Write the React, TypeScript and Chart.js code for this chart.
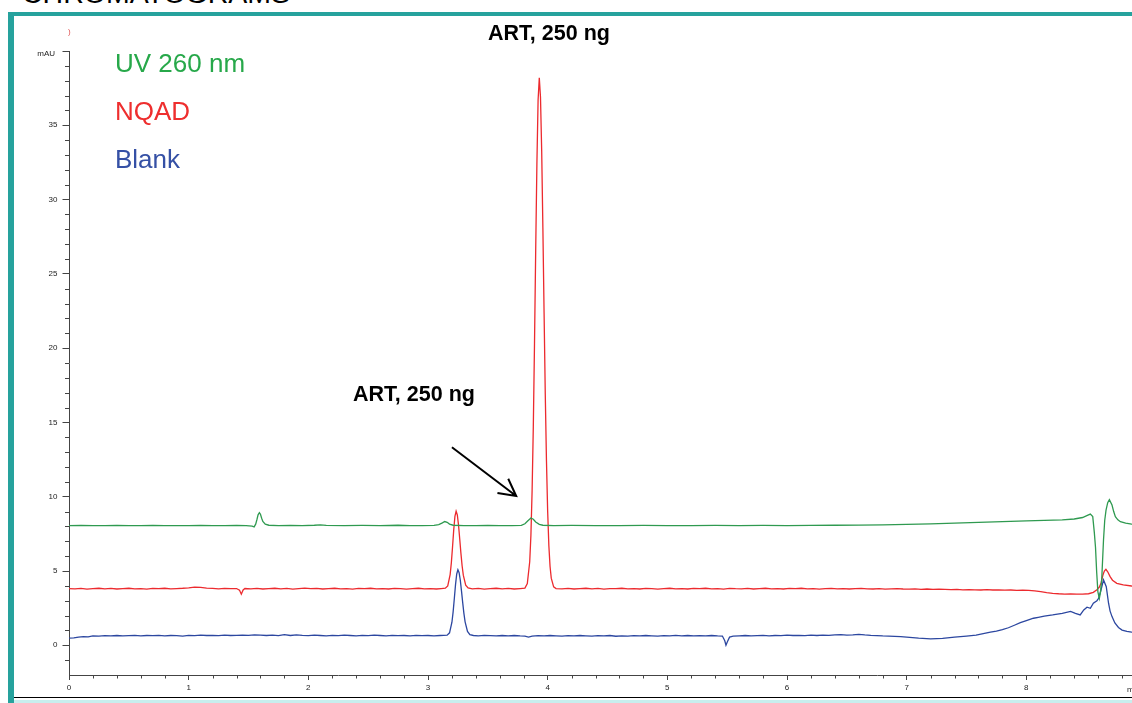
import React, { useEffect, useRef } from 'react';
import { Chart, registerables } from 'chart.js';

Chart.register(...registerables);

// ---- data (time in min, signal in mAU) ----
const uvTimes = [
  0.00, 0.10, 0.20, 0.30, 0.40, 0.50, 0.60, 0.70, 0.80, 0.90, 1.00, 1.10, 1.20, 1.30, 1.40, 1.48,
  1.53, 1.547, 1.56, 1.57, 1.58, 1.591, 1.60, 1.61, 1.62, 1.64, 1.67, 1.75, 1.85, 1.95, 2.05, 2.10,
  2.15, 2.30, 2.45, 2.60, 2.75, 2.85, 2.95, 3.05, 3.09, 3.12, 3.14, 3.16, 3.18, 3.21, 3.30, 3.40,
  3.50, 3.60, 3.70, 3.78, 3.81, 3.835, 3.86, 3.88, 3.90, 3.93, 3.96, 4.05, 4.20, 4.40, 4.60, 4.80,
  5.00, 5.20, 5.40, 5.60, 5.80, 6.00, 6.20, 6.40, 6.60, 6.80, 7.00, 7.20, 7.40, 7.60, 7.80, 8.00,
  8.15, 8.30, 8.40, 8.47, 8.51, 8.535, 8.555, 8.568, 8.578, 8.588, 8.598, 8.61, 8.62, 8.63, 8.645,
  8.655, 8.666, 8.68, 8.694, 8.716, 8.73, 8.744, 8.765, 8.786, 8.83, 8.88, 8.95,
];
const uvValues = [
  8.05, 8.07, 8.05, 8.06, 8.07, 8.05, 8.06, 8.07, 8.06, 8.05, 8.06, 8.07, 8.06, 8.05, 8.07, 8.06,
  8.02, 7.97, 8.15, 8.45, 8.78, 8.93, 8.82, 8.55, 8.33, 8.15, 8.08, 8.06, 8.07, 8.06, 8.08, 8.10,
  8.07, 8.06, 8.07, 8.06, 8.08, 8.06, 8.06, 8.07, 8.12, 8.24, 8.33, 8.28, 8.16, 8.08, 8.06, 8.06,
  8.07, 8.06, 8.06, 8.07, 8.18, 8.38, 8.57, 8.48, 8.30, 8.14, 8.08, 8.06, 8.07, 8.06, 8.06, 8.07,
  8.06, 8.06, 8.07, 8.06, 8.07, 8.06, 8.07, 8.08, 8.09, 8.11, 8.14, 8.17, 8.22, 8.27, 8.33, 8.38,
  8.41, 8.44, 8.50, 8.60, 8.74, 8.83, 8.66, 7.6, 6.6, 4.9, 3.6, 3.16, 3.6, 4.45, 7.1,
  8.4, 9.1, 9.6, 9.8, 9.44, 9.0, 8.66, 8.44, 8.32, 8.22, 8.15, 8.12,
];

const nqadTimes = [
  0.00, 0.05, 0.10, 0.15, 0.20, 0.25, 0.30, 0.35, 0.40, 0.45, 0.50, 0.55, 0.60, 0.65, 0.70, 0.75,
  0.80, 0.85, 0.90, 0.95, 1.00, 1.05, 1.10, 1.15, 1.20, 1.25, 1.30, 1.35, 1.40, 1.425, 1.44, 1.455,
  1.47, 1.52, 1.57, 1.62, 1.67, 1.72, 1.77, 1.82, 1.87, 1.92, 1.97, 2.02, 2.07, 2.12, 2.17, 2.22,
  2.27, 2.32, 2.37, 2.42, 2.47, 2.52, 2.57, 2.62, 2.67, 2.72, 2.77, 2.82, 2.87, 2.92, 2.97, 3.02,
  3.07, 3.11, 3.145, 3.165, 3.185, 3.195, 3.205, 3.215, 3.225, 3.235, 3.245, 3.255, 3.265, 3.275,
  3.285, 3.295, 3.315, 3.335, 3.37, 3.42, 3.47, 3.52, 3.57, 3.62, 3.67, 3.72, 3.77, 3.81, 3.83,
  3.85, 3.86, 3.87, 3.88, 3.89, 3.90, 3.91, 3.92, 3.93, 3.94, 3.95, 3.96, 3.97, 3.98, 3.99, 4.00,
  4.01, 4.02, 4.03, 4.05, 4.07, 4.12, 4.17, 4.22, 4.27, 4.32, 4.37, 4.42, 4.47, 4.52, 4.57, 4.62,
  4.67, 4.72, 4.77, 4.82, 4.87, 4.92, 4.97, 5.02, 5.07, 5.12, 5.17, 5.22, 5.27, 5.32, 5.37, 5.42,
  5.47, 5.52, 5.57, 5.62, 5.67, 5.72, 5.77, 5.82, 5.87, 5.92, 5.97, 6.02, 6.07, 6.12, 6.17, 6.22,
  6.27, 6.32, 6.37, 6.42, 6.47, 6.52, 6.57, 6.62, 6.67, 6.72, 6.77, 6.82, 6.87, 6.92, 6.97, 7.02,
  7.07, 7.12, 7.17, 7.22, 7.27, 7.32, 7.37, 7.42, 7.47, 7.52, 7.57, 7.62, 7.67, 7.72, 7.77, 7.82,
  7.87, 7.92, 7.97, 8.02, 8.07, 8.12, 8.17, 8.22, 8.27, 8.32, 8.37, 8.42, 8.47, 8.52, 8.56, 8.59,
  8.61, 8.625, 8.64, 8.652, 8.665, 8.68, 8.70, 8.72, 8.756, 8.81, 8.88, 8.95,
];
const nqadValues = [
  3.82, 3.80, 3.83, 3.78, 3.82, 3.84, 3.80, 3.83, 3.79, 3.82, 3.84, 3.80, 3.82, 3.78, 3.83, 3.81,
  3.84, 3.80, 3.82, 3.84, 3.87, 3.92, 3.90, 3.85, 3.83, 3.80, 3.83, 3.81, 3.82, 3.70, 3.44, 3.72,
  3.82, 3.80, 3.83, 3.79, 3.82, 3.84, 3.80, 3.83, 3.78, 3.82, 3.85, 3.81, 3.83, 3.79, 3.82, 3.84,
  3.80, 3.82, 3.78, 3.83, 3.81, 3.84, 3.80, 3.82, 3.79, 3.83, 3.81, 3.78, 3.82, 3.84, 3.80, 3.82,
  3.79, 3.82, 3.84, 4.00, 4.76, 5.55, 6.62, 7.77, 8.67, 9.02, 8.77, 8.10, 7.17, 6.20,
  5.35, 4.72, 4.05, 3.86, 3.80, 3.83, 3.78, 3.82, 3.84, 3.80, 3.83, 3.79, 3.82, 3.85, 4.15,
  5.62, 7.4, 10.4, 14.7, 20.3, 26.6, 32.4, 36.7, 38.2, 36.9, 33.3, 28.1, 22.4, 16.9, 12.4, 9.0,
  6.7, 5.3, 4.52, 3.93, 3.82, 3.80, 3.83, 3.79, 3.82, 3.84, 3.80, 3.83, 3.78, 3.82, 3.81, 3.84,
  3.80, 3.82, 3.79, 3.83, 3.81, 3.78, 3.82, 3.84, 3.80, 3.82, 3.79, 3.83, 3.81, 3.84, 3.80, 3.82,
  3.78, 3.83, 3.81, 3.80, 3.83, 3.79, 3.82, 3.84, 3.80, 3.82, 3.79, 3.83, 3.81, 3.84, 3.80, 3.82,
  3.78, 3.81, 3.83, 3.80, 3.82, 3.79, 3.81, 3.83, 3.80, 3.79, 3.81, 3.78, 3.80, 3.82, 3.79, 3.78,
  3.80, 3.77, 3.79, 3.76, 3.78, 3.76, 3.74, 3.76, 3.73, 3.75, 3.73, 3.72, 3.74, 3.72, 3.73, 3.71,
  3.72, 3.70, 3.71, 3.70, 3.66, 3.61, 3.55, 3.50, 3.47, 3.45, 3.46, 3.44, 3.45, 3.47, 3.56, 3.74,
  3.92, 4.20, 4.73, 5.00, 5.11, 4.95, 4.62, 4.38, 4.17, 4.06, 3.99, 3.97,
];

const blankTimes = [
  0.00, 0.04, 0.08, 0.12, 0.16, 0.20, 0.25, 0.30, 0.35, 0.40, 0.45, 0.50, 0.55, 0.60, 0.65, 0.70,
  0.75, 0.80, 0.85, 0.90, 0.95, 1.00, 1.05, 1.10, 1.15, 1.20, 1.25, 1.30, 1.35, 1.40, 1.45, 1.50,
  1.55, 1.60, 1.65, 1.70, 1.75, 1.80, 1.85, 1.90, 1.95, 2.00, 2.05, 2.10, 2.15, 2.20, 2.25, 2.30,
  2.35, 2.40, 2.45, 2.50, 2.55, 2.60, 2.65, 2.70, 2.75, 2.80, 2.85, 2.90, 2.95, 3.00, 3.05, 3.10,
  3.16, 3.18, 3.20, 3.21, 3.22, 3.23, 3.24, 3.25, 3.26, 3.27, 3.28, 3.29, 3.30, 3.31, 3.33, 3.35,
  3.38, 3.42, 3.47, 3.52, 3.57, 3.62, 3.67, 3.72, 3.77, 3.81, 3.84, 3.87, 3.92, 3.97, 4.02, 4.07,
  4.12, 4.17, 4.22, 4.27, 4.32, 4.37, 4.42, 4.47, 4.52, 4.57, 4.62, 4.67, 4.72, 4.77, 4.82, 4.87,
  4.92, 4.97, 5.02, 5.07, 5.12, 5.17, 5.22, 5.27, 5.32, 5.37, 5.42, 5.46, 5.48, 5.49, 5.50, 5.52,
  5.55, 5.60, 5.65, 5.70, 5.75, 5.80, 5.85, 5.90, 5.95, 6.00, 6.05, 6.10, 6.15, 6.20, 6.25, 6.30,
  6.35, 6.40, 6.45, 6.50, 6.55, 6.60, 6.65, 6.70, 6.75, 6.80, 6.85, 6.90, 6.95, 7.00, 7.10, 7.20,
  7.30, 7.40, 7.50, 7.58, 7.65, 7.70, 7.75, 7.80, 7.85, 7.90, 7.95, 8.00, 8.06, 8.10, 8.15, 8.22,
  8.30, 8.37, 8.41, 8.45, 8.48, 8.507, 8.535, 8.56, 8.59, 8.604, 8.624, 8.645, 8.668, 8.687, 8.70,
  8.716, 8.74, 8.77, 8.80, 8.84, 8.88, 8.95,
];
const blankValues = [
  0.48, 0.50, 0.55, 0.58, 0.56, 0.63, 0.62, 0.65, 0.64, 0.66, 0.63, 0.65, 0.67, 0.64, 0.66, 0.65,
  0.67, 0.64, 0.66, 0.65, 0.62, 0.67, 0.65, 0.68, 0.66, 0.67, 0.65, 0.68, 0.66, 0.67, 0.69, 0.67,
  0.70, 0.68, 0.66, 0.68, 0.65, 0.72, 0.66, 0.70, 0.67, 0.65, 0.68, 0.66, 0.64, 0.67, 0.65, 0.68,
  0.66, 0.64, 0.67, 0.65, 0.68, 0.66, 0.64, 0.67, 0.65, 0.66, 0.64, 0.67, 0.65, 0.66, 0.64, 0.66,
  0.68, 0.84, 1.55, 2.25, 3.15, 4.08, 4.80, 5.08, 4.89, 4.38, 3.65, 2.87, 2.15, 1.58, 0.93, 0.71,
  0.66, 0.64, 0.67, 0.65, 0.63, 0.66, 0.64, 0.66, 0.63, 0.62, 0.55, 0.62, 0.65, 0.63, 0.66, 0.64,
  0.62, 0.65, 0.63, 0.66, 0.64, 0.62, 0.65, 0.63, 0.66, 0.61, 0.64, 0.62, 0.65, 0.63, 0.66, 0.64,
  0.62, 0.65, 0.63, 0.67, 0.64, 0.66, 0.63, 0.65, 0.64, 0.66, 0.63, 0.62, 0.30, 0.00, 0.20, 0.55,
  0.62, 0.64, 0.66, 0.63, 0.65, 0.67, 0.64, 0.66, 0.65, 0.68, 0.66, 0.67, 0.65, 0.68, 0.66, 0.69,
  0.67, 0.70, 0.72, 0.69, 0.70, 0.74, 0.70, 0.67, 0.65, 0.63, 0.62, 0.60, 0.58, 0.55, 0.48, 0.43,
  0.47, 0.55, 0.62, 0.69, 0.80, 0.88, 0.96, 1.06, 1.18, 1.35, 1.52, 1.66, 1.82, 1.88, 1.96, 2.04,
  2.15, 2.28, 2.15, 2.04, 2.38, 2.56, 2.49, 2.83, 3.00, 3.16, 3.72, 4.40, 3.94, 2.83, 2.30,
  1.93, 1.50, 1.20, 1.02, 0.93, 0.88, 0.86,
];

const seriesNames = ['UV 260 nm', 'NQAD', 'Blank'];
const lineColors = ['#2f9a50', '#ec2a2e', '#2c47a0'];
const legendColors = ['#27a84a', '#ee2e2e', '#3550a5'];

const xTickValues = [0, 1, 2, 3, 4, 5, 6, 7, 8];
const xTickLabels = ['0', '1', '2', '3', '4', '5', '6', '7', '8'];
const yTickValues = [0, 5, 10, 15, 20, 25, 30, 35, 40];
const yTickLabels = ['0', '5', '10', '15', '20', '25', '30', '35', 'mAU'];
const xAxisTitle = 'min';

const peakLabel = 'ART, 250 ng';
const arrowStart = [3.2, 13.33];
const arrowEnd = [3.737, 10.05];

const FONT = '"Liberation Sans", Arial, Helvetica, sans-serif';

function toPoints(ts: number[], vs: number[]) {
  return ts.map((t, i) => ({ x: t, y: vs[i] }));
}

export default function App() {
  const ref = useRef<HTMLCanvasElement | null>(null);

  useEffect(() => {
    const canvas = ref.current;
    if (!canvas) return;

    const extras = {
      id: 'extras',
      afterDraw(chart: any) {
        const ctx = chart.ctx;
        const xs = chart.scales.x;
        const ys = chart.scales.y;
        ctx.save();
        ctx.strokeStyle = '#444';
        ctx.lineWidth = 1;
        ctx.beginPath();
        for (let i = -1; i < 40; i++) {
          if (i % 5 === 0) continue;
          const py = Math.round(ys.getPixelForValue(i)) + 0.5;
          ctx.moveTo(xs.left - 4, py);
          ctx.lineTo(xs.left, py);
        }
        for (let i = 1; i <= 44; i++) {
          if (i % 5 === 0) continue;
          const px = Math.round(xs.getPixelForValue(i * 0.2)) + 0.5;
          ctx.moveTo(px, ys.bottom);
          ctx.lineTo(px, ys.bottom + 3.5);
        }
        ctx.stroke();

        // annotation arrow
        const x0 = xs.getPixelForValue(arrowStart[0]);
        const y0 = ys.getPixelForValue(arrowStart[1]);
        const x1 = xs.getPixelForValue(arrowEnd[0]);
        const y1 = ys.getPixelForValue(arrowEnd[1]);
        const ang = Math.atan2(y1 - y0, x1 - x0);
        const L = 19;
        const a = 0.49;
        ctx.strokeStyle = '#000';
        ctx.lineWidth = 2;
        ctx.beginPath();
        ctx.moveTo(x0, y0);
        ctx.lineTo(x1, y1);
        ctx.moveTo(x1 - L * Math.cos(ang - a), y1 - L * Math.sin(ang - a));
        ctx.lineTo(x1, y1);
        ctx.lineTo(x1 - L * Math.cos(ang + a), y1 - L * Math.sin(ang + a));
        ctx.stroke();

        ctx.fillStyle = '#222';
        ctx.font = '8px ' + FONT;
        ctx.textBaseline = 'middle';
        ctx.textAlign = 'left';
        ctx.fillText(xAxisTitle, 1127, ys.bottom + 15);
        // unit label at the top tick of the value axis
        ctx.textAlign = 'right';
        ctx.fillText(yTickLabels[yTickLabels.length - 1], xs.left - 14, ys.getPixelForValue(40) + 3);
        ctx.restore();
      },
    };

    const datasets = [
      toPoints(uvTimes, uvValues),
      toPoints(nqadTimes, nqadValues),
      toPoints(blankTimes, blankValues),
    ].map((data, i) => ({
      label: seriesNames[i],
      data,
      borderColor: lineColors[i],
      backgroundColor: lineColors[i],
      borderWidth: 1.3,
      pointRadius: 0,
      tension: 0,
      fill: false,
    }));

    const chart = new Chart(canvas, {
      type: 'line',
      data: { datasets },
      options: {
        animation: false,
        responsive: false,
        maintainAspectRatio: false,
        events: [],
        layout: { padding: { left: 0, top: 51, right: 54, bottom: 0 } },
        plugins: { legend: { display: false }, tooltip: { enabled: false } },
        scales: {
          x: {
            type: 'linear',
            min: 0,
            max: 9,
            afterFit: (s: any) => { s.height = 28; },
            afterBuildTicks: (s: any) => { s.ticks = xTickValues.map((v) => ({ value: v })); },
            ticks: {
              callback: (_v: any, i: number) => xTickLabels[i],
              font: { size: 8, family: FONT },
              color: '#222',
              padding: 3,
              maxRotation: 0,
              autoSkip: false,
            },
            grid: { drawOnChartArea: false, tickLength: 5, color: '#444', tickColor: '#444' },
            border: { color: '#444', width: 1 },
          },
          y: {
            type: 'linear',
            min: -2,
            max: 40,
            afterFit: (s: any) => { s.width = 69; },
            afterBuildTicks: (s: any) => { s.ticks = yTickValues.map((v) => ({ value: v })); },
            ticks: {
              callback: (_v: any, i: number) => (i === yTickLabels.length - 1 ? '' : yTickLabels[i]),
              font: { size: 8, family: FONT },
              color: '#222',
              padding: 5,
              autoSkip: false,
            },
            grid: { drawOnChartArea: false, tickLength: 6.5, color: '#444', tickColor: '#444' },
            border: { color: '#444', width: 1 },
          },
        },
      },
      plugins: [extras],
    } as any);

    return () => chart.destroy();
  }, []);

  const abs = (s: React.CSSProperties): React.CSSProperties => ({
    position: 'absolute',
    whiteSpace: 'nowrap',
    lineHeight: 1,
    fontFamily: FONT,
    margin: 0,
    ...s,
  });

  return (
    <div
      style={{
        position: 'fixed',
        left: 0,
        top: 0,
        width: 1132,
        height: 703,
        overflow: 'hidden',
        background: '#fff',
      }}
    >
      <div style={abs({ left: 22, top: -21, fontSize: 28.5, color: '#000' })}>CHROMATOGRAMS</div>
      <div style={{ position: 'absolute', left: 8, top: 12, width: 1124, height: 4, background: '#26a29d' }} />
      <div style={{ position: 'absolute', left: 8, top: 12, width: 6, height: 691, background: '#26a29d' }} />
      <div style={{ position: 'absolute', left: 14, top: 697, width: 1118, height: 1, background: '#000' }} />
      <div style={{ position: 'absolute', left: 14, top: 700, width: 1118, height: 3, background: '#c8eeee' }} />
      <canvas
        ref={ref}
        width={1200}
        height={703}
        style={{ position: 'absolute', left: 0, top: 0, width: 1200, height: 703 }}
      />
      <div style={abs({ left: 68, top: 28, fontSize: 8, color: '#e05050' })}>)</div>
      <div style={abs({ left: 115, top: 50, fontSize: 26, color: legendColors[0] })}>{seriesNames[0]}</div>
      <div style={abs({ left: 115, top: 98, fontSize: 26, color: legendColors[1] })}>{seriesNames[1]}</div>
      <div style={abs({ left: 115, top: 146, fontSize: 26, color: legendColors[2] })}>{seriesNames[2]}</div>
      <div style={abs({ left: 549, top: 23, fontSize: 21.5, fontWeight: 'bold', color: '#000', transform: 'translateX(-50%)' })}>
        {peakLabel}
      </div>
      <div style={abs({ left: 414, top: 384, fontSize: 21.5, fontWeight: 'bold', color: '#000', transform: 'translateX(-50%)' })}>
        {peakLabel}
      </div>
    </div>
  );
}
